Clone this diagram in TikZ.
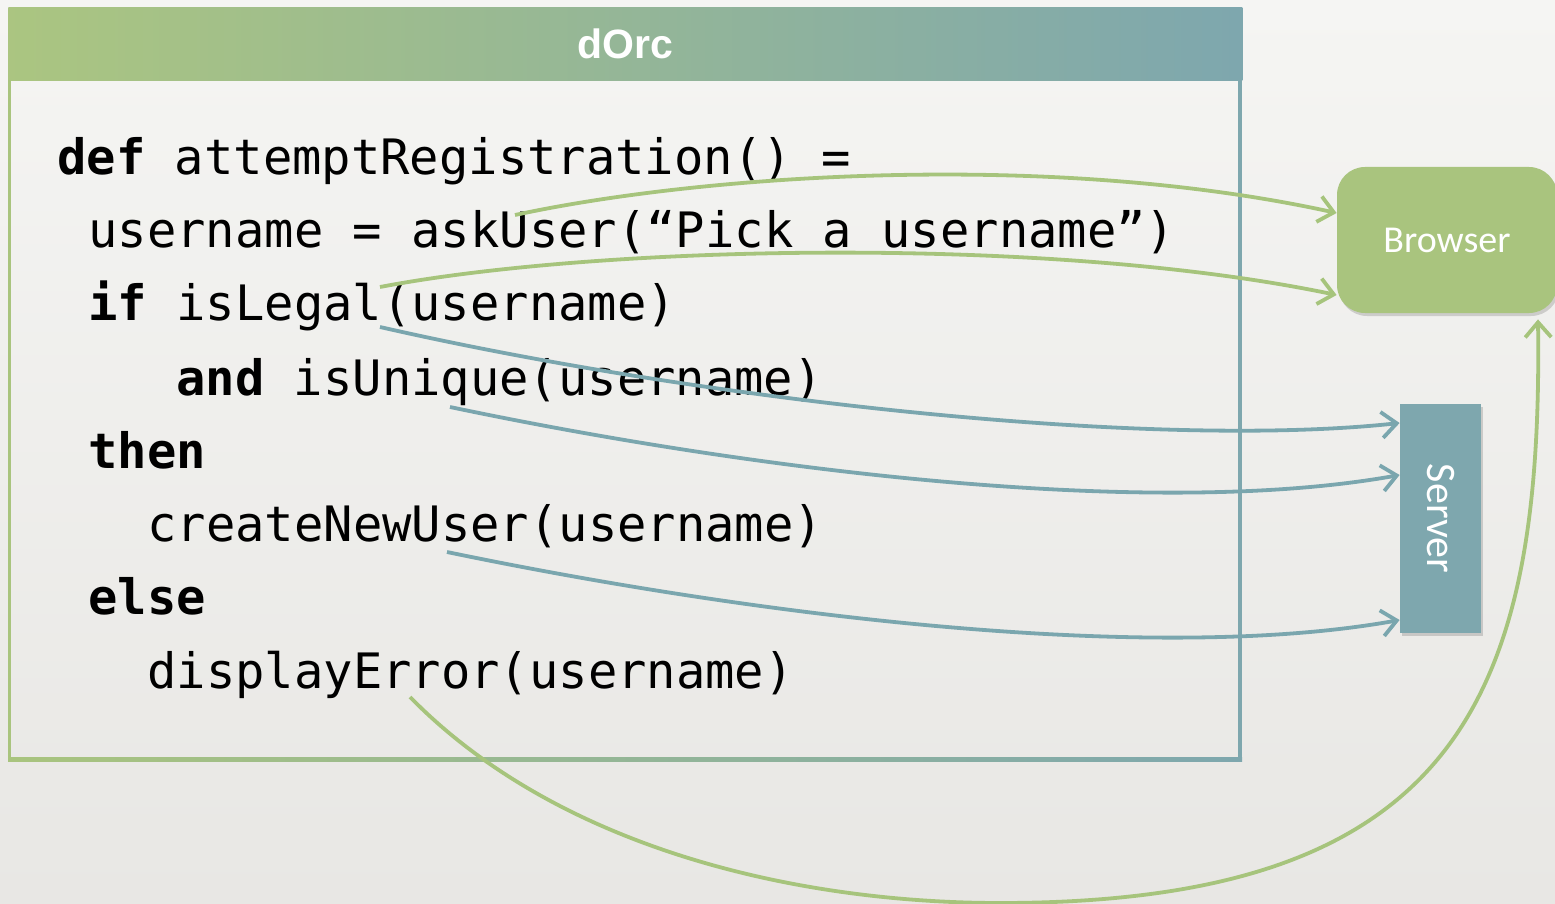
\documentclass[tikz,border=0pt]{standalone}
\usepackage{fontspec}
\setmonofont{DejaVu Sans Mono}
\newfontfamily\titlefont{Liberation Sans}
\newfontfamily\boxfont{Carlito}
\usetikzlibrary{arrows.meta,shadows,calc}

\definecolor{bgtop}{HTML}{F5F5F3}
\definecolor{bgbot}{HTML}{E8E7E4}
\definecolor{leaf}{HTML}{A9C47E}
\definecolor{sea}{HTML}{7EA7AE}
\definecolor{leafline}{HTML}{A6C47C}
\definecolor{sealine}{HTML}{7AA6AE}

\tikzset{
  codeline/.style={anchor=base west, inner sep=0pt, text=black,
    font=\ttfamily\fontsize{24.4pt}{29pt}\selectfont},
  agent/.style={inner sep=0pt, text=white, draw=none,
    drop shadow={shadow xshift=1pt, shadow yshift=-1.5pt, opacity=0.15, fill=black}},
  greenlink/.style={draw=leafline, line width=1.9pt,
    -{Straight Barb[length=7.5pt,width=13pt]}},
  bluelink/.style={draw=sealine, line width=1.9pt,
    -{Straight Barb[length=7.5pt,width=13pt]}},
}

\begin{document}
\begin{tikzpicture}[x=0.5pt,y=-0.5pt]
\useasboundingbox (0,0) rectangle (1555,904);
% page background
\shade[top color=bgtop, bottom color=bgbot] (0,0) rectangle (1555,904);

% orchestrator frame: header band and gradient border
\node[anchor=north west, inner sep=0pt, minimum width=617pt, minimum height=36.5pt,
      left color=leaf!98!white, right color=sea, text=white,
      font=\titlefont\bfseries\fontsize{20.5pt}{24pt}\selectfont] (header) at (8,7) {dOrc};
\fill[leaf] (8,80) rectangle (11,761);
\fill[sea] (1238,80) rectangle (1242,761);
\shade[left color=leaf, right color=sea] (8,757) rectangle (1242,761);

% code listing
\node[codeline] (l1) at (57,175) {\textbf{def} attemptRegistration() =};
\node[codeline] (l2) at (88,248) {username = askUser(“Pick a username”)};
\node[codeline] (l3) at (88,321) {\textbf{if} isLegal(username)};
\node[codeline] (l4) at (176,395) {\textbf{and} isUnique(username)};
\node[codeline] (l5) at (88,468) {\textbf{then}};
\node[codeline] (l6) at (147,541) {createNewUser(username)};
\node[codeline] (l7) at (88,614) {\textbf{else}};
\node[codeline] (l8) at (147,688) {displayError(username)};

% participants
\node[agent, fill=leaf, rounded corners=14pt, minimum width=110pt, minimum height=73pt,
      font=\boxfont\fontsize{19pt}{22pt}\selectfont] (browser) at (1447,240) {Browser};
\node[agent, fill=sea, minimum width=40.5pt, minimum height=114.5pt,
      font=\boxfont\fontsize{21pt}{24pt}\selectfont] (server) at (1440.5,518.5)
      {\rotatebox{-90}{Server}};

% call sites in the code
\coordinate (askU) at (515,215);
\coordinate (legalG) at (380,287);
\coordinate (legalB) at (380,327);
\coordinate (uniq) at (450,407);
\coordinate (create) at (447,552);
\coordinate (disp) at (410,697);
\coordinate (low) at (1000,903);

% messages to the browser
\draw[greenlink] (askU) .. controls (700,175) and (1050,150) .. ([yshift=13.5pt]browser.west);
\draw[greenlink] (legalG) .. controls (600,245) and (1050,235) .. ([yshift=-27.5pt]browser.west);
\draw[greenlink] (disp) .. controls (560,850) and (800,903) .. (low)
  .. controls (1455,903) and (1543,700) .. ([xshift=45.5pt,yshift=-3pt]browser.south);

% messages to the server
\draw[bluelink] (legalB) .. controls (700,400) and (1150,450) .. ([yshift=47.75pt]server.west);
\draw[bluelink] (uniq) .. controls (750,470) and (1150,520) .. ([yshift=21.75pt]server.west);
\draw[bluelink] (create) .. controls (750,615) and (1150,665) .. ([yshift=-50.75pt]server.west);
\end{tikzpicture}
\end{document}
